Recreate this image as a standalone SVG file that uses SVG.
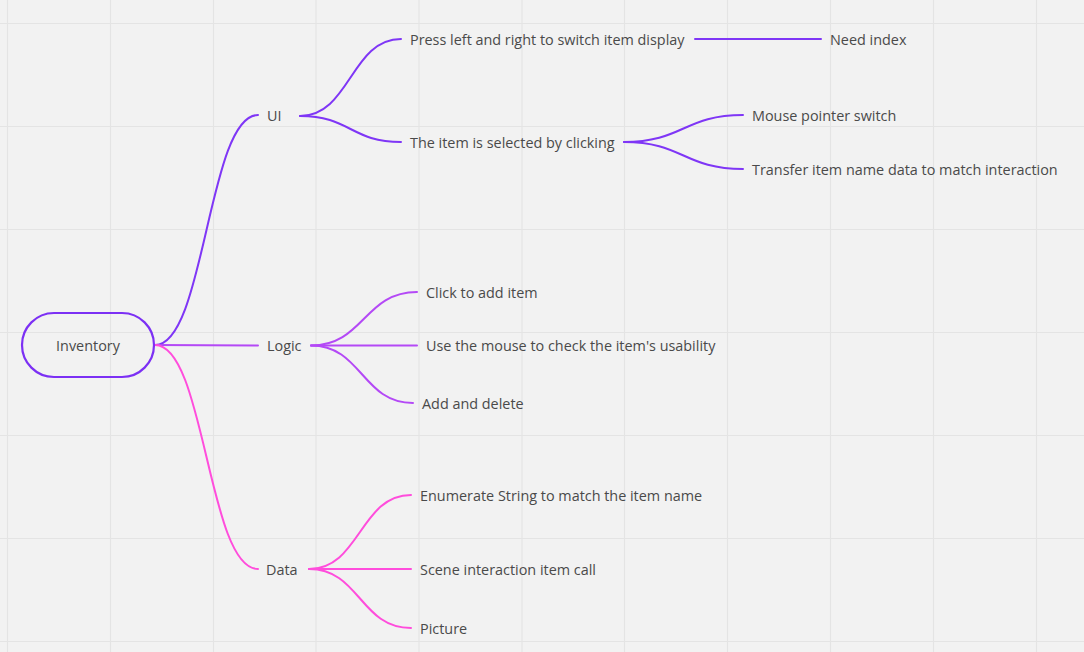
<svg xmlns="http://www.w3.org/2000/svg" width="1084" height="652" viewBox="0 0 1084 652">
<style>
.grid line{stroke:#e4e4e4;stroke-width:1.2}
.t{font-family:"Open Sans","Noto Sans","Liberation Sans",sans-serif;font-size:14.4px;fill:#4a4a4a}
.c{fill:none;stroke-width:2;stroke-linecap:round}
.ui{stroke:#7f36f6}
.lg{stroke:#b449f6}
.dt{stroke:#ff4ddc}
</style>
<rect width="1084" height="652" fill="#f2f2f2"/>
<g class="grid">
<line x1="7.5" y1="0" x2="7.5" y2="652"/>
<line x1="110.5" y1="0" x2="110.5" y2="652"/>
<line x1="213.5" y1="0" x2="213.5" y2="652"/>
<line x1="316" y1="0" x2="316" y2="652"/>
<line x1="419" y1="0" x2="419" y2="652"/>
<line x1="522" y1="0" x2="522" y2="652"/>
<line x1="624.5" y1="0" x2="624.5" y2="652"/>
<line x1="727.5" y1="0" x2="727.5" y2="652"/>
<line x1="830.5" y1="0" x2="830.5" y2="652"/>
<line x1="933.5" y1="0" x2="933.5" y2="652"/>
<line x1="1036.5" y1="0" x2="1036.5" y2="652"/>
<line x1="0" y1="23.5" x2="1084" y2="23.5"/>
<line x1="0" y1="126.5" x2="1084" y2="126.5"/>
<line x1="0" y1="229.5" x2="1084" y2="229.5"/>
<line x1="0" y1="332.5" x2="1084" y2="332.5"/>
<line x1="0" y1="435.5" x2="1084" y2="435.5"/>
<line x1="0" y1="538.5" x2="1084" y2="538.5"/>
<line x1="0" y1="641.5" x2="1084" y2="641.5"/>
</g>
<g id="connectors">
<path class="c ui" d="M155,345 C205,345 208,115 258,115"/>
<path class="c lg" d="M155,345 L258,345.5"/>
<path class="c dt" d="M155,345 C205,345 208,569 258,569"/>
<path class="c ui" d="M300,116 C350,116 351,39 401,39"/>
<path class="c ui" d="M300,116 C350,116 351,142 401,142"/>
<path class="c ui" d="M695,39 L821,39"/>
<path class="c ui" d="M624,142 C683,142 684,115 743,115"/>
<path class="c ui" d="M624,142 C683,142 684,169 743,169"/>
<path class="c lg" d="M311,345.5 C364,345.5 364,292 417,292"/>
<path class="c lg" d="M311,345.5 L417,345.5"/>
<path class="c lg" d="M311,345.5 C362,345.5 362,403 413,403"/>
<path class="c dt" d="M309,569 C360,569 360,495 411,495"/>
<path class="c dt" d="M309,569 L411,569"/>
<path class="c dt" d="M309,569 C360,569 360,628 411,628"/>
</g>
<g id="root">
<rect x="22" y="313" width="132" height="64" rx="32" fill="none" stroke="#7c30f4" stroke-width="2.2"/>
<text class="t" x="88" y="350.5" text-anchor="middle">Inventory</text>
</g>
<g id="ui"><text class="t" x="267" y="120.5">UI</text></g>
<g id="logic"><text class="t" x="267" y="350.5">Logic</text></g>
<g id="data"><text class="t" x="266" y="574.5">Data</text></g>
<g id="ui-press"><text class="t" x="410" y="44.5">Press left and right to switch item display</text></g>
<g id="ui-need"><text class="t" x="830" y="44.5">Need index</text></g>
<g id="ui-select"><text class="t" x="410" y="147.5">The item is selected by clicking</text></g>
<g id="ui-mouse"><text class="t" x="752" y="120.5">Mouse pointer switch</text></g>
<g id="ui-transfer"><text class="t" x="752" y="174.5">Transfer item name data to match interaction</text></g>
<g id="logic-click"><text class="t" x="426" y="297.5">Click to add item</text></g>
<g id="logic-use"><text class="t" x="426" y="350.5">Use the mouse to check the item's usability</text></g>
<g id="logic-add"><text class="t" x="422" y="408.5">Add and delete</text></g>
<g id="data-enum"><text class="t" x="420" y="500.5">Enumerate String to match the item name</text></g>
<g id="data-scene"><text class="t" x="420" y="574.5">Scene interaction item call</text></g>
<g id="data-picture"><text class="t" x="420" y="633.5">Picture</text></g>
</svg>
